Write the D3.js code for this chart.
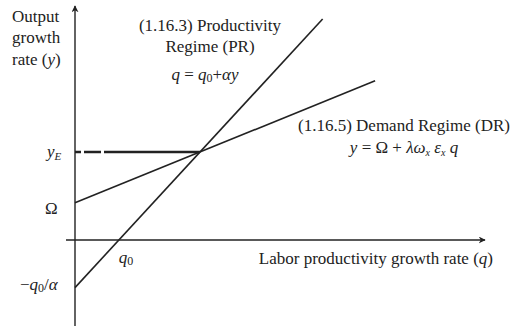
<!DOCTYPE html>
<html>
<head>
<meta charset="utf-8">
<script src="https://cdn.jsdelivr.net/npm/d3@7"></script>
<style>
  html, body { margin: 0; padding: 0; background: #fff; }
  svg { display: block; }
  text { font-family: "Liberation Serif", "Times New Roman", serif; fill: #222; }
</style>
</head>
<body>
<svg id="chart" width="512" height="326"></svg>
<script>
// Model parameters (q on the horizontal axis, y on the vertical axis)
const q0 = 1.07;
const omega = 0.93;
const equilibrium = { q: 3.05, y: 2.2 };

// Endpoints of the two regime lines
const productivityRegime = [ { q: 0, y: -1.19 }, { q: 6.04, y: 5.525 } ];
const demandRegime       = [ { q: 0, y: 0.93 },  { q: 7.32, y: 3.98 } ];

// Axis extents
const qExtent = [-0.22, 10];
const yExtent = [-2.15, 5.85];

const x = d3.scaleLinear().domain([0, 10]).range([75, 485]);
const y = d3.scaleLinear().domain([-2.15, 5.85]).range([326, 6]);

const svg = d3.select("#chart");
const ink = "#222";
const fs = 17;

// Arrowheads for the axes
svg.append("defs").append("marker")
  .attr("id", "arrow")
  .attr("viewBox", "0 0 10 10")
  .attr("refX", 9).attr("refY", 5)
  .attr("markerWidth", 7).attr("markerHeight", 7)
  .attr("markerUnits", "userSpaceOnUse")
  .attr("orient", "auto")
  .append("path")
  .attr("d", "M0,0 L10,5 L0,10 L3,5 Z")
  .attr("fill", ink);

// Axes
svg.append("line")
  .attr("x1", x(qExtent[0])).attr("y1", y(0))
  .attr("x2", x(qExtent[1])).attr("y2", y(0))
  .attr("stroke", ink).attr("stroke-width", 1.4)
  .attr("marker-end", "url(#arrow)");
svg.append("line")
  .attr("x1", x(0)).attr("y1", y(yExtent[0]))
  .attr("x2", x(0)).attr("y2", y(yExtent[1]))
  .attr("stroke", ink).attr("stroke-width", 1.4)
  .attr("marker-end", "url(#arrow)");

// Equilibrium growth guide
svg.append("line")
  .attr("x1", x(0)).attr("y1", y(equilibrium.y))
  .attr("x2", x(equilibrium.q)).attr("y2", y(equilibrium.y))
  .attr("stroke", ink).attr("stroke-width", 2.4)
  .attr("stroke-dasharray", "6,3,17,3,400");

// Regime lines
const line = d3.line().x(d => x(d.q)).y(d => y(d.y));
[productivityRegime, demandRegime].forEach(pts => {
  svg.append("path")
    .attr("d", line(pts))
    .attr("fill", "none")
    .attr("stroke", ink)
    .attr("stroke-width", 1.6);
});

// Vertical axis title
const yt = svg.append("text").attr("x", 12).attr("font-size", fs);
yt.append("tspan").attr("x", 12).attr("y", 22).text("Output");
yt.append("tspan").attr("x", 12).attr("y", 43).text("growth");
const r = yt.append("tspan").attr("x", 12).attr("y", 65).text("rate (");
r.append("tspan").attr("font-style", "italic").text("y");
r.append("tspan").text(")");

// Horizontal axis title
const xt = svg.append("text")
  .attr("x", 493).attr("y", 264)
  .attr("text-anchor", "end").attr("font-size", fs);
xt.append("tspan").text("Labor productivity growth rate (");
xt.append("tspan").attr("font-style", "italic").text("q");
xt.append("tspan").text(")");

// Axis value labels
const yE = svg.append("text")
  .attr("x", 47).attr("y", y(equilibrium.y) + 5).attr("font-size", fs);
yE.append("tspan").attr("font-style", "italic").text("y");
yE.append("tspan").attr("font-style", "italic").attr("font-size", 11).attr("dy", 3).text("E");

svg.append("text")
  .attr("x", 45).attr("y", y(omega) + 11).attr("font-size", fs)
  .text("Ω");

const nq = svg.append("text")
  .attr("x", 20).attr("y", y(productivityRegime[0].y) + 2).attr("font-size", fs);
nq.append("tspan").text("−");
nq.append("tspan").attr("font-style", "italic").text("q");
nq.append("tspan").attr("font-size", 12).attr("dy", 2).text("0");
nq.append("tspan").attr("dy", -2).text("/");
nq.append("tspan").attr("font-style", "italic").text("α");

const q0l = svg.append("text")
  .attr("x", x(q0)).attr("y", y(0) + 23).attr("font-size", fs);
q0l.append("tspan").attr("font-style", "italic").text("q");
q0l.append("tspan").attr("font-size", 12).attr("dy", 2).text("0");

// Productivity regime annotation
const pr = svg.append("g").attr("font-size", fs).attr("text-anchor", "middle");
pr.append("text").attr("x", 210).attr("y", 31).text("(1.16.3) Productivity");
pr.append("text").attr("x", 210).attr("y", 52).text("Regime (PR)");
const prEq = pr.append("text").attr("x", 205).attr("y", 80);
prEq.append("tspan").attr("font-style", "italic").text("q");
prEq.append("tspan").text(" = ");
prEq.append("tspan").attr("font-style", "italic").text("q");
prEq.append("tspan").attr("font-size", 12).attr("dy", 2).text("0");
prEq.append("tspan").attr("dy", -2).text("+");
prEq.append("tspan").attr("font-style", "italic").text("αy");

// Demand regime annotation
const dr = svg.append("g").attr("font-size", fs).attr("text-anchor", "middle");
dr.append("text").attr("x", 404).attr("y", 131).text("(1.16.5) Demand Regime (DR)");
const drEq = dr.append("text").attr("x", 404).attr("y", 153);
drEq.append("tspan").attr("font-style", "italic").text("y");
drEq.append("tspan").text(" = Ω + ");
drEq.append("tspan").attr("font-style", "italic").text("λω");
drEq.append("tspan").attr("font-style", "italic").attr("font-size", 10).attr("dy", 3).text("x");
drEq.append("tspan").attr("font-style", "italic").attr("dy", -3).text(" ε");
drEq.append("tspan").attr("font-style", "italic").attr("font-size", 10).attr("dy", 3).text("x");
drEq.append("tspan").attr("font-style", "italic").attr("dy", -3).text(" q");
</script>
</body>
</html>
